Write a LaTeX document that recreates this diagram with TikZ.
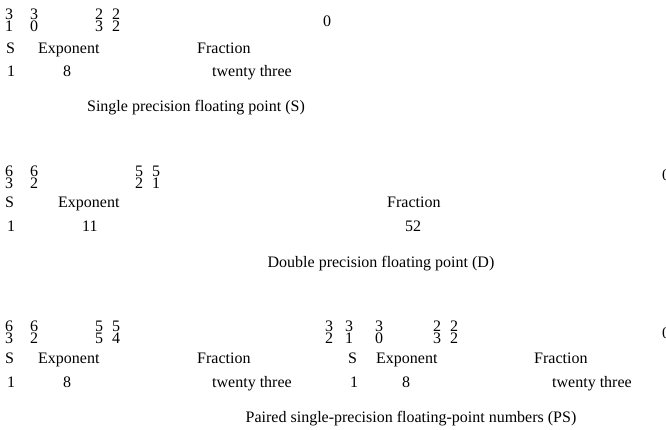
\documentclass[tikz,border=0pt]{standalone}
\usepackage{fontspec}
\setmainfont{Liberation Serif}
\begin{document}
\begin{tikzpicture}[x=1pt, y=-1pt,
  bitno/.style={anchor=north west, inner sep=0pt, align=left, font=\fontsize{16}{12}\selectfont},
  field/.style={anchor=base west, inner sep=0pt, font=\fontsize{16}{19}\selectfont},
  captxt/.style={anchor=base, inner sep=0pt, font=\fontsize{16}{19}\selectfont}]
  \useasboundingbox (0,0) rectangle (666,430);
  % single precision (S)
  \node[bitno] (sb31) at (5,9) {3\\1};
  \node[bitno] (sb30) at (30,9) {3\\0};
  \node[bitno] (sb23) at (95,9) {2\\3};
  \node[bitno] (sb22) at (112,9) {2\\2};
  \node[field] (sb0) at (323,27) {0};
  \node[field] (ssign) at (6,54) {S};
  \node[field] (sexp) at (38,54) {Exponent};
  \node[field] (sfrac) at (197,54) {Fraction};
  \node[field] (sw1) at (7,77) {1};
  \node[field] (sw8) at (63,77) {8};
  \node[field] (sw23) at (212,77) {twenty three};
  \node[captxt] (scap) at (196,112) {Single precision floating point (S)};
  % double precision (D)
  \node[bitno] (db63) at (5,166) {6\\3};
  \node[bitno] (db62) at (30,166) {6\\2};
  \node[bitno] (db52) at (135,166) {5\\2};
  \node[bitno] (db51) at (152,166) {5\\1};
  \node[field] (db0) at (662,181) {0};
  \node[field] (dsign) at (5,208) {S};
  \node[field] (dexp) at (58,208) {Exponent};
  \node[field] (dfrac) at (387,208) {Fraction};
  \node[field] (dw1) at (7,232) {1};
  \node[field] (dw11) at (82,232) {11};
  \node[field] (dw52) at (405,232) {52};
  \node[captxt] (dcap) at (381,267) {Double precision floating point (D)};
  % paired single (PS)
  \node[bitno] (pb63) at (5,321) {6\\3};
  \node[bitno] (pb62) at (30,321) {6\\2};
  \node[bitno] (pb55) at (95,321) {5\\5};
  \node[bitno] (pb54) at (112,321) {5\\4};
  \node[bitno] (pb32) at (325,321) {3\\2};
  \node[bitno] (pb31) at (345,321) {3\\1};
  \node[bitno] (pb30) at (375,321) {3\\0};
  \node[bitno] (pb23) at (433,321) {2\\3};
  \node[bitno] (pb22) at (450,321) {2\\2};
  \node[field] (pb0) at (662,338) {0};
  \node[field] (psignhi) at (5,363) {S};
  \node[field] (pexphi) at (38,363) {Exponent};
  \node[field] (pfrachi) at (197,363) {Fraction};
  \node[field] (psignlo) at (348,363) {S};
  \node[field] (pexplo) at (376,363) {Exponent};
  \node[field] (pfraclo) at (534,363) {Fraction};
  \node[field] (pw1hi) at (7,387) {1};
  \node[field] (pw8hi) at (63,387) {8};
  \node[field] (pw23hi) at (212,387) {twenty three};
  \node[field] (pw1lo) at (350,387) {1};
  \node[field] (pw8lo) at (402,387) {8};
  \node[field] (pw23lo) at (552,387) {twenty three};
  \node[captxt] (pcap) at (411,422) {Paired single-precision floating-point numbers (PS)};
\end{tikzpicture}
\end{document}
